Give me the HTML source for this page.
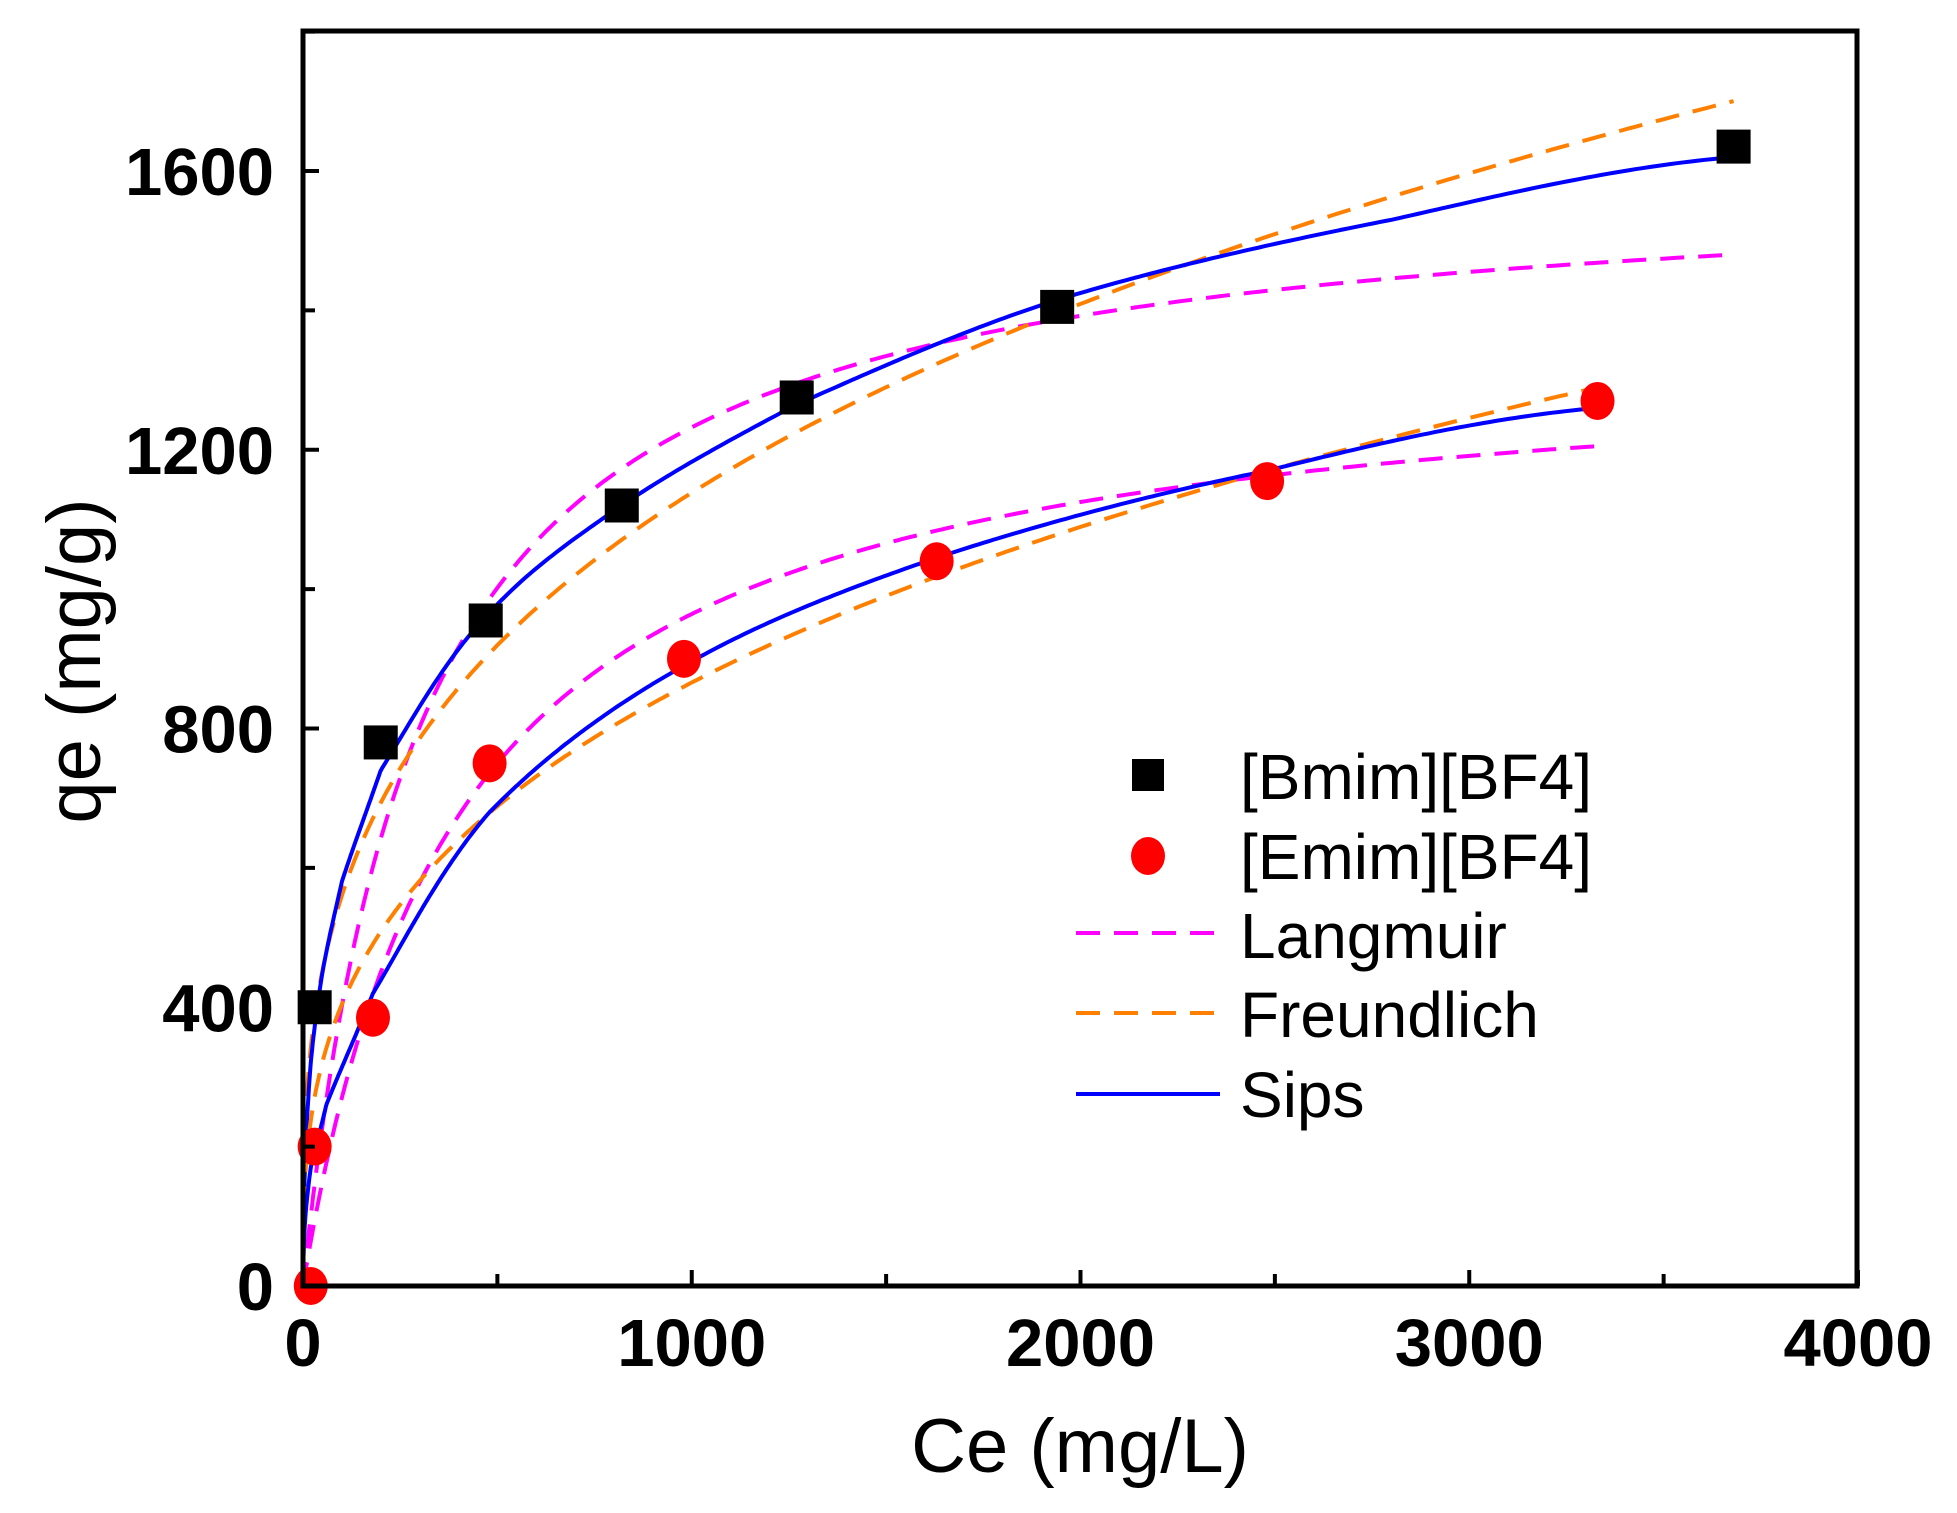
<!DOCTYPE html>
<html><head><meta charset="utf-8"><style>html,body{margin:0;padding:0;background:#fff;}svg{display:block;}</style></head>
<body>
<svg id="s" width="1957" height="1513" xmlns="http://www.w3.org/2000/svg" font-family="Liberation Sans, Arial, sans-serif">
<rect width="1957" height="1513" fill="#fff"/>
<g id="curves"></g>
<g id="marks"></g>
<rect x="303" y="31" width="1554" height="1255" fill="none" stroke="#000" stroke-width="5"/>
<g stroke="#000" stroke-width="4" id="ticks"></g>
<g font-size="67" font-weight="bold" fill="#000" id="labels"></g>
<text x="1080" y="1472" font-size="76" text-anchor="middle">Ce (mg/L)</text>
<text transform="translate(100,661) rotate(-90)" font-size="76" text-anchor="middle">qe (mg/g)</text>
<g font-size="64" fill="#000">
<rect x="1132" y="759" width="32" height="32" fill="#000"/>
<ellipse cx="1148" cy="856" rx="17" ry="19" fill="#f00"/>
<line x1="1076" y1="933" x2="1220" y2="933" stroke="#f0f" stroke-width="4" stroke-dasharray="24,14"/>
<line x1="1076" y1="1013" x2="1220" y2="1013" stroke="#ff8000" stroke-width="4" stroke-dasharray="24,14"/>
<line x1="1076" y1="1094" x2="1220" y2="1094" stroke="#00f" stroke-width="4"/>
<text x="1240" y="799">[Bmim][BF4]</text>
<text x="1240" y="879">[Emim][BF4]</text>
<text x="1240" y="958">Langmuir</text>
<text x="1240" y="1037">Freundlich</text>
<text x="1240" y="1117">Sips</text>
</g>
</svg>
<script>
var X=function(c){return 303+c*0.38875;},Y=function(q){return 1286-q*0.696875;};
var NS="http://www.w3.org/2000/svg";
function el(p,t,a){var e=document.createElementNS(NS,t);for(var k in a)e.setAttribute(k,a[k]);document.getElementById(p).appendChild(e);return e;}
function path(f,cmax,col,dash){var d="";for(var i=0;i<=400;i++){var c=cmax*Math.pow(i/400,2);var q=f(c);d+=(i?"L":"M")+X(c).toFixed(1)+","+Y(q).toFixed(1);}
var a={d:d,fill:"none",stroke:col,"stroke-width":4};if(dash)a["stroke-dasharray"]=dash;el("curves","path",a);}
function interp(pts){return function(c){var s=Math.sqrt(c);for(var i=0;i<pts.length-1;i++){var a=Math.sqrt(pts[i][0]),b=Math.sqrt(pts[i+1][0]);if(s<=b){var t=(s-a)/(b-a);
var p0=pts[Math.max(i-1,0)][1],p1=pts[i][1],p2=pts[i+1][1],p3=pts[Math.min(i+2,pts.length-1)][1];
return 0.5*((2*p1)+(-p0+p2)*t+(2*p0-5*p1+4*p2-p3)*t*t+(-p0+3*p1-3*p2+p3)*t*t*t);}}return pts[pts.length-1][1];};}
path(function(c){return 1600*0.00335*c/(1+0.00335*c);},3680,"#f0f","24,14");
path(function(c){return 135.6*Math.pow(c,0.308);},3680,"#ff8000","24,14");
path(interp([[0,0],[5,170],[20,320],[50,450],[100,580],[200,740],[470,960],[820,1120],[1270,1265],[1940,1415],[2800,1530],[3680,1620]]),3680,"#00f");
path(function(c){return 1350*0.0025*c/(1+0.0025*c);},3330,"#f0f","24,14");
path(function(c){return 88*Math.pow(c,0.331);},3330,"#ff8000","24,14");
path(interp([[0,0],[5,90],[20,170],[60,260],[180,420],[480,680],[980,890],[1630,1045],[2480,1170],[3330,1260]]),3330,"#00f");
[[30,400],[200,780],[470,955],[820,1120],[1270,1275],[1940,1405],[3680,1635]].forEach(function(p){el("marks","rect",{x:X(p[0])-17,y:Y(p[1])-17,width:34,height:34,fill:"#000"});});
[[20,0],[30,200],[180,385],[480,750],[980,900],[1630,1040],[2480,1155],[3330,1270]].forEach(function(p){el("marks","ellipse",{cx:X(p[0]),cy:Y(p[1]),rx:17,ry:19,fill:"#f00"});});
for(var c=0;c<=4000;c+=500){var L=(c%1000==0)?16:12;el("ticks","line",{x1:X(c),y1:1286,x2:X(c),y2:1286-L});
if(c%1000==0){var t=el("labels","text",{x:X(c),y:1366,"text-anchor":"middle"});t.textContent=c;}}
for(var q=0;q<=1800;q+=200){var L=(q%400==0)?16:12;el("ticks","line",{x1:303,y1:Y(q),x2:303+L,y2:Y(q)});
if(q%400==0){var t=el("labels","text",{x:274,y:Y(q)+24,"text-anchor":"end"});t.textContent=q;}}
</script>
</body></html>
